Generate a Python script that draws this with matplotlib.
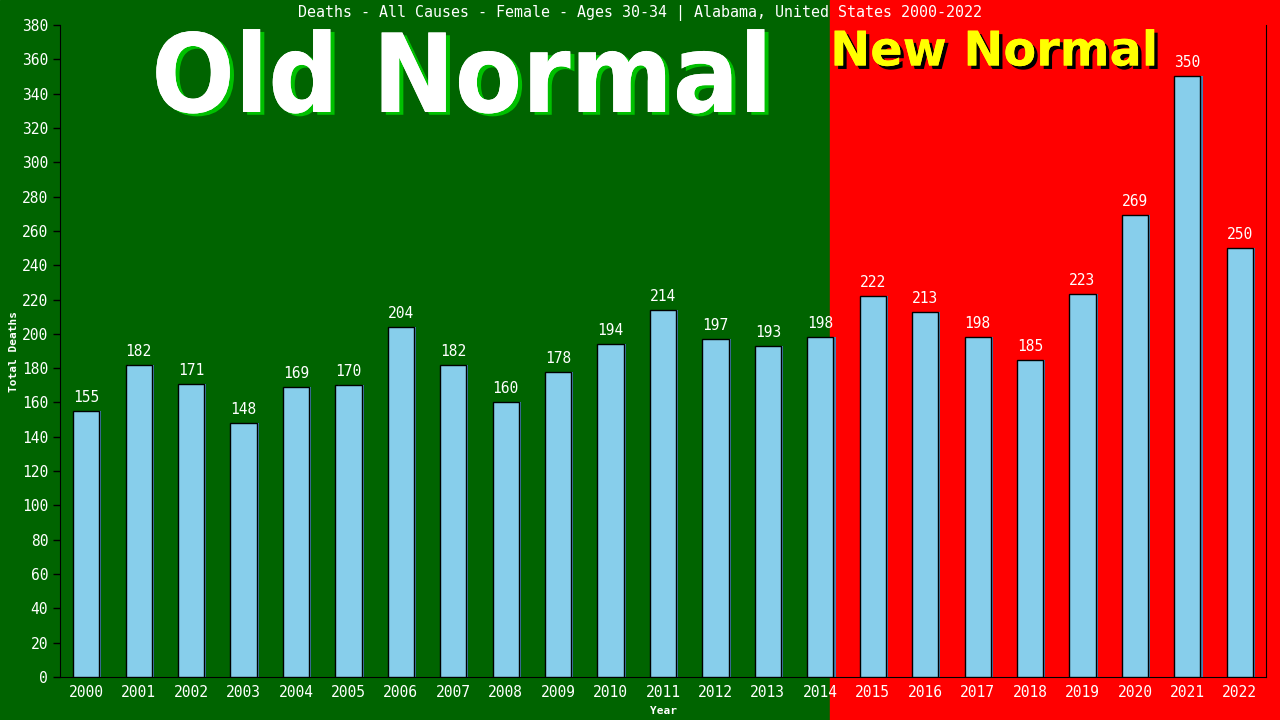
import matplotlib
matplotlib.use("Agg")
from matplotlib import pyplot as plt
import matplotlib.patheffects as pe
from matplotlib.patches import Rectangle

years = [str(y) for y in range(2000, 2023)]
deaths = [155, 182, 171, 148, 169, 170, 204, 182, 160, 178, 194, 214,
          197, 193, 198, 222, 213, 198, 185, 223, 269, 350, 250]

green = "#006400"
red = "#ff0000"
bar_col = "#87ceeb"
mono = "DejaVu Sans Mono"

fig = plt.figure(figsize=(12.8, 7.2), dpi=100)
# two-tone background (old / new)
split = 830 / 1280
fig.patches.append(Rectangle((0, 0), split, 1, transform=fig.transFigure, color=green, zorder=-10))
fig.patches.append(Rectangle((split, 0), 1 - split, 1, transform=fig.transFigure, color=red, zorder=-10))

ax = fig.add_axes([60 / 1280, 43 / 720, 1206 / 1280, 652 / 720])
ax.patch.set_alpha(0)

x = list(range(len(years)))
# thin shadow bars, then main bars
ax.bar([i + 0.04 for i in x], deaths, width=0.5, color="#4682b4", zorder=2)
ax.bar(x, deaths, width=0.5, color=bar_col, edgecolor="black", linewidth=1, zorder=3)
for i, v in zip(x, deaths):
    ax.text(i, v + 3.5, str(v), ha="center", va="bottom", color="white",
            fontsize=10.5, family=mono, zorder=4)

ax.set_xlim(-0.5, len(years) - 0.5)
ax.set_ylim(0, 380)
ax.set_yticks(range(0, 381, 20))
ax.set_xticks(x)
ax.set_xticklabels(years)
ax.tick_params(axis="y", colors="white", labelsize=10.5, length=5, width=1, color="black")
ax.tick_params(axis="x", colors="white", labelsize=10.5, length=0, pad=6)
for lab in ax.get_xticklabels() + ax.get_yticklabels():
    lab.set_family(mono)
ax.spines["top"].set_visible(False)
for s in ["left", "bottom", "right"]:
    ax.spines[s].set_color("black")

ax.set_ylabel("Total Deaths", color="white", fontsize=8, fontweight="bold", family=mono, labelpad=2)
ax.set_xlabel("Year", color="white", fontsize=8, fontweight="bold", family=mono, labelpad=4)

fig.text(0.5, 1 - 13 / 720, "Deaths - All Causes - Female - Ages 30-34 | Alabama, United States 2000-2022",
         ha="center", va="center", color="white", fontsize=10.8, family=mono)

fig.text(462 / 1280, 1 - 112 / 720, "Old Normal", ha="center", va="baseline", color="white",
         fontsize=78.5, fontweight="bold", fontstretch="condensed", family="DejaVu Sans",
         path_effects=[pe.withSimplePatchShadow(offset=(3, -2), shadow_rgbFace="#00c000", alpha=1),
                       pe.Normal()])
fig.text(994 / 1280, 1 - 52 / 720, "New Normal", ha="center", va="center", color="yellow",
         fontsize=34.4, fontweight="bold", family="DejaVu Sans",
         path_effects=[pe.withSimplePatchShadow(offset=(2.5, -2.5), shadow_rgbFace="black", alpha=1),
                       pe.Normal()])

fig.savefig("out.png", dpi=100)
